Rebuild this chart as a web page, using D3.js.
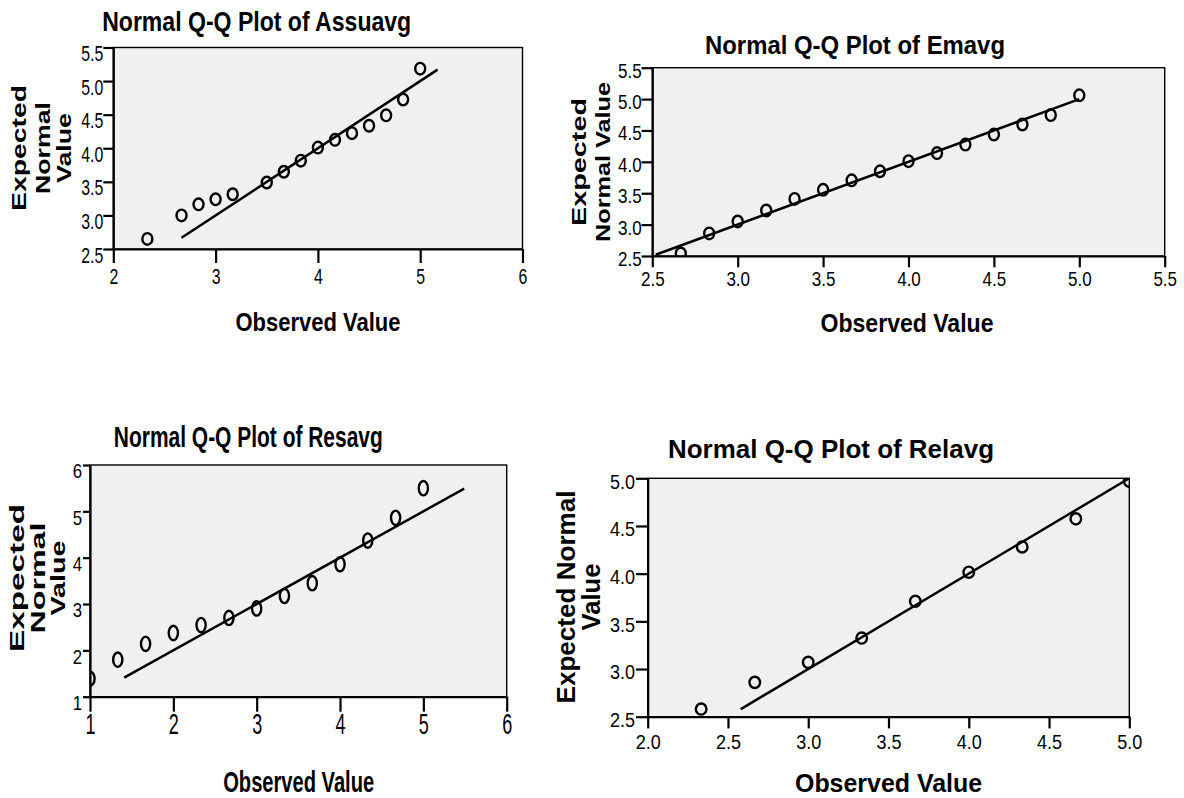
<!DOCTYPE html>
<html>
<head>
<meta charset="utf-8">
<script src="https://cdn.jsdelivr.net/npm/d3@7"></script>
<style>
  body { margin: 0; background: #fff; }
  svg { display: block; }
</style>
</head>
<body>
<div id="chart"></div>
<script>
// Assuavg
const assuObserved = [2.333, 2.667, 2.833, 3.0, 3.167, 3.5, 3.667, 3.833, 4.0, 4.167, 4.333, 4.5, 4.667, 4.833, 5.0];
const assuExpected = [2.65, 3.0, 3.165, 3.24, 3.315, 3.49, 3.65, 3.815, 4.01, 4.125, 4.225, 4.335, 4.49, 4.725, 5.185];
const assuLine = [2.667, 5.17];
const assuXTicks = [2, 3, 4, 5, 6];
const assuYTicks = [2.5, 3.0, 3.5, 4.0, 4.5, 5.0, 5.5];

// Emavg
const emObserved = [2.667, 2.833, 3.0, 3.167, 3.333, 3.5, 3.667, 3.833, 4.0, 4.167, 4.333, 4.5, 4.667, 4.833, 5.0];
const emExpected = [2.54, 2.86, 3.05, 3.225, 3.41, 3.555, 3.705, 3.85, 4.01, 4.14, 4.275, 4.435, 4.595, 4.745, 5.06];
const emLine = [2.52, 5.0];
const emXTicks = [2.5, 3.0, 3.5, 4.0, 4.5, 5.0, 5.5];
const emYTicks = [2.5, 3.0, 3.5, 4.0, 4.5, 5.0, 5.5];

// Resavg
const resObserved = [1.0, 1.333, 1.667, 2.0, 2.333, 2.667, 3.0, 3.333, 3.667, 4.0, 4.333, 4.667, 5.0];
const resExpected = [1.39, 1.8, 2.14, 2.375, 2.545, 2.7, 2.905, 3.175, 3.45, 3.86, 4.37, 4.86, 5.5];
const resLine = [1.41, 5.49];
const resXTicks = [1, 2, 3, 4, 5, 6];
const resYTicks = [1, 2, 3, 4, 5, 6];

// Relavg
const relObserved = [2.333, 2.667, 3.0, 3.333, 3.667, 4.0, 4.333, 4.667, 5.0];
const relExpected = [2.58, 2.86, 3.07, 3.325, 3.71, 4.015, 4.28, 4.575, 4.97];
const relLine = [2.58, 5.0];
const relXTicks = [2.0, 2.5, 3.0, 3.5, 4.0, 4.5, 5.0];
const relYTicks = [2.5, 3.0, 3.5, 4.0, 4.5, 5.0];

const W = 1184, H = 798;
const FONT = '"Liberation Sans", Arial, Helvetica, sans-serif';

const svg = d3.select('#chart').append('svg')
  .attr('width', W)
  .attr('height', H);

svg.append('rect').attr('width', W).attr('height', H).attr('fill', '#fff');

// layout of each panel (positions/sizes only)
const panels = [
  {
    id: 'assu',
    obs: assuObserved, exp: assuExpected, line: assuLine,
    xDomain: [2, 6], yDomain: [2.5, 5.5], xTicks: assuXTicks, yTicks: assuYTicks,
    xFmt: 'd', yFmt: '.1f',
    box: { l: 113.3, r: 522.5, t: 47.5, b: 249 },
    rx: 5, ry: 5.8,
    xTick: 14, xPad: 5, xFont: 22, xSqueeze: 0.72,
    yTick: 10, yPad: 0, yFont: 22, ySqueeze: 0.72, yShift: 6,
    title: { text: 'Normal Q-Q Plot of Assuavg', x: 256.7, y: 31, w: 309, size: 27 },
    xLab: { x: 318, y: 331, w: 165, size: 25 },
    yLab: { cy: 148, size: 21, lines: [
      { t: 'Expected', x: 26, len: 126 },
      { t: 'Normal', x: 50, len: 92 },
      { t: 'Value', x: 71, len: 70 }] }
  },
  {
    id: 'em',
    obs: emObserved, exp: emExpected, line: emLine,
    xDomain: [2.5, 5.5], yDomain: [2.5, 5.5], xTicks: emXTicks, yTicks: emYTicks,
    xFmt: '.1f', yFmt: '.1f',
    box: { l: 652.3, r: 1164.7, t: 67.7, b: 256 },
    rx: 5, ry: 5.8,
    xTick: 11.3, xPad: 4.7, xFont: 20, xSqueeze: 0.85,
    yTick: 10.7, yPad: 0, yFont: 20, ySqueeze: 0.85, yShift: 3,
    title: { text: 'Normal Q-Q Plot of Emavg', x: 855, y: 53.5, w: 300, size: 26 },
    xLab: { x: 907, y: 331.5, w: 173, size: 25 },
    yLab: { cy: 162, size: 21, lines: [
      { t: 'Expected', x: 586, len: 128 },
      { t: 'Normal Value', x: 609.5, len: 160 }] }
  },
  {
    id: 'res',
    obs: resObserved, exp: resExpected, line: resLine,
    xDomain: [1, 6], yDomain: [1, 6], xTicks: resXTicks, yTicks: resYTicks,
    xFmt: 'd', yFmt: 'd',
    box: { l: 90, r: 506.7, t: 465, b: 696.7 },
    rx: 4.6, ry: 7.2,
    xTick: 15, xPad: 1.3, xFont: 30, xSqueeze: 0.6,
    yTick: 7, yPad: 1, yFont: 21, ySqueeze: 0.8, yShift: 6,
    title: { text: 'Normal Q-Q Plot of Resavg', x: 248.3, y: 447, w: 269, size: 29 },
    xLab: { x: 298.7, y: 792, w: 151, size: 30 },
    yLab: { cy: 578, size: 21, lines: [
      { t: 'Expected', x: 24, len: 148 },
      { t: 'Normal', x: 45, len: 111 },
      { t: 'Value', x: 64.5, len: 75 }] }
  },
  {
    id: 'rel',
    obs: relObserved, exp: relExpected, line: relLine,
    xDomain: [2, 5], yDomain: [2.5, 5], xTicks: relXTicks, yTicks: relYTicks,
    xFmt: '.1f', yFmt: '.1f',
    box: { l: 647.7, r: 1129.3, t: 478.3, b: 716.7 },
    rx: 5.3, ry: 5.6,
    xTick: 11.7, xPad: 6.6, xFont: 20, xSqueeze: 0.9,
    yTick: 11.7, yPad: 1, yFont: 20, ySqueeze: 0.9, yShift: 3.4,
    title: { text: 'Normal Q-Q Plot of Relavg', x: 831, y: 458, w: 326, size: 25 },
    xLab: { x: 888.5, y: 791.5, w: 187, size: 25 },
    yLab: { cy: 597, size: 26, lines: [
      { t: 'Expected Normal', x: 575, len: 213 },
      { t: 'Value', x: 600, len: 67 }] }
  }
];

function squeeze(sel, k) {
  sel.each(function () {
    const w = this.getComputedTextLength();
    d3.select(this)
      .attr('textLength', w * k)
      .attr('lengthAdjust', 'spacingAndGlyphs');
  });
}

function addLabel(g, cfg, text) {
  return g.append('text')
    .attr('x', cfg.x).attr('y', cfg.y)
    .attr('text-anchor', 'middle')
    .attr('font-family', FONT)
    .attr('font-weight', 'bold')
    .attr('font-size', cfg.size)
    .attr('textLength', cfg.w)
    .attr('lengthAdjust', 'spacingAndGlyphs')
    .text(text);
}

function drawPanel(p) {
  const g = svg.append('g').attr('class', 'panel-' + p.id);
  const b = p.box;

  const x = d3.scaleLinear().domain(p.xDomain).range([b.l, b.r]);
  const y = d3.scaleLinear().domain(p.yDomain).range([b.b, b.t]);

  // plot area
  g.append('rect')
    .attr('x', b.l).attr('y', b.t)
    .attr('width', b.r - b.l).attr('height', b.b - b.t)
    .attr('fill', '#f0f0f0')
    .attr('stroke', '#000')
    .attr('stroke-width', 1.4);

  g.append('clipPath').attr('id', 'clip-' + p.id)
    .append('rect')
    .attr('x', b.l).attr('y', b.t)
    .attr('width', b.r - b.l).attr('height', b.b - b.t);

  const plot = g.append('g').attr('clip-path', `url(#clip-${p.id})`);

  // reference line y = x
  plot.append('line')
    .attr('x1', x(p.line[0])).attr('y1', y(p.line[0]))
    .attr('x2', x(p.line[1])).attr('y2', y(p.line[1]))
    .attr('stroke', '#000')
    .attr('stroke-width', 2.5);

  plot.selectAll('ellipse')
    .data(d3.zip(p.obs, p.exp))
    .join('ellipse')
    .attr('cx', d => x(d[0]))
    .attr('cy', d => y(d[1]))
    .attr('rx', p.rx)
    .attr('ry', p.ry)
    .attr('fill', 'none')
    .attr('stroke', '#000')
    .attr('stroke-width', 2.4);

  // axes
  const xAxis = d3.axisBottom(x)
    .tickValues(p.xTicks)
    .tickFormat(d3.format(p.xFmt))
    .tickSize(p.xTick)
    .tickSizeOuter(0)
    .tickPadding(p.xPad);

  const yAxis = d3.axisLeft(y)
    .tickValues(p.yTicks)
    .tickFormat(d3.format(p.yFmt))
    .tickSize(p.yTick)
    .tickSizeOuter(0)
    .tickPadding(p.yPad);

  const gx = g.append('g')
    .attr('transform', `translate(0,${b.b})`)
    .call(xAxis)
    .attr('font-family', FONT)
    .attr('font-size', null);
  gx.select('.domain').attr('stroke-width', 2.2);
  gx.selectAll('.tick line').attr('stroke-width', 2.2);
  gx.selectAll('.tick text')
    .attr('font-size', p.xFont)
    .attr('fill', '#000')
    .call(squeeze, p.xSqueeze);

  const gy = g.append('g')
    .attr('transform', `translate(${b.l},0)`)
    .call(yAxis)
    .attr('font-family', FONT)
    .attr('font-size', null);
  gy.select('.domain').attr('stroke-width', 2.2);
  gy.selectAll('.tick line').attr('stroke-width', 2.2);
  gy.selectAll('.tick text')
    .attr('font-size', p.yFont)
    .attr('fill', '#000')
    .attr('dy', 0.32 * p.yFont + p.yShift)
    .call(squeeze, p.ySqueeze);

  addLabel(g, p.title, p.title.text);
  addLabel(g, p.xLab, 'Observed Value');

  // y label, one text per line, rotated
  p.yLab.lines.forEach(l => {
    g.append('text')
      .attr('transform', `translate(${l.x},${p.yLab.cy}) rotate(-90)`)
      .attr('text-anchor', 'middle')
      .attr('font-family', FONT)
      .attr('font-weight', 'bold')
      .attr('font-size', p.yLab.size)
      .attr('textLength', l.len)
      .attr('lengthAdjust', 'spacingAndGlyphs')
      .text(l.t);
  });
}

panels.forEach(drawPanel);
</script>
</body>
</html>
